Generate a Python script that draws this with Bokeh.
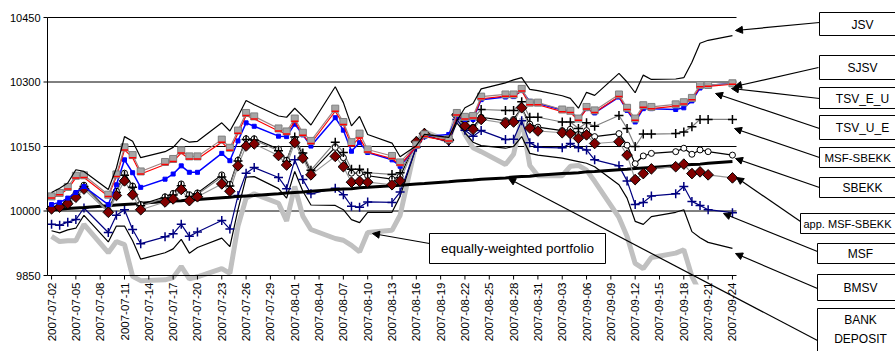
import numpy as np
import pandas as pd
from bokeh.plotting import figure
from bokeh.models import Range1d, Arrow, NormalHead
from bokeh.core.properties import value
from bokeh.embed import file_html
from bokeh.resources import INLINE

# ---- data -----------------------------------------------------------------
dates = [
    "2007-07-02", "2007-07-03", "2007-07-04", "2007-07-05", "2007-07-06",
    "2007-07-09", "2007-07-10", "2007-07-11", "2007-07-12", "2007-07-13",
    "2007-07-16", "2007-07-17", "2007-07-18", "2007-07-19", "2007-07-20",
    "2007-07-23", "2007-07-24", "2007-07-25", "2007-07-26", "2007-07-27",
    "2007-07-30", "2007-07-31", "2007-08-01", "2007-08-02", "2007-08-03",
    "2007-08-06", "2007-08-07", "2007-08-08", "2007-08-09", "2007-08-10",
    "2007-08-13", "2007-08-14", "2007-08-16", "2007-08-17",
    "2007-08-20", "2007-08-21", "2007-08-22", "2007-08-23", "2007-08-24",
    "2007-08-27", "2007-08-28", "2007-08-29", "2007-08-30", "2007-08-31",
    "2007-09-03", "2007-09-04", "2007-09-05", "2007-09-06", "2007-09-07",
    "2007-09-10", "2007-09-11", "2007-09-12", "2007-09-13", "2007-09-14",
    "2007-09-17", "2007-09-18", "2007-09-19", "2007-09-20", "2007-09-21",
    "2007-09-24",
]

jsv = [10043, 10053, 10065, 10096, 10092, 10050, 10100, 10173, 10162, 10124,
       10138, 10148, 10169, 10160, 10162, 10205, 10186, 10220, 10257, 10247,
       10221, 10218, 10239, 10220, 10200, 10289, 10252, 10198, 10220, 10178,
       10158, 10126, 10152, 10178, 10171, 10210, 10240, 10250, 10284,
       10298, 10305, 10310, 10283, 10280, 10268, 10262, 10239, 10276, 10269,
       10320, 10300, 10275, 10316, 10306, 10307, 10310, 10346, 10390, 10397,
       10408]

sjsv = [10034, 10042, 10056, 10082, 10083, 10038, 10085, 10148, 10130, 10092,
        10114, 10121, 10141, 10127, 10127, 10166, 10147, 10187, 10228, 10220,
        10192, 10185, 10215, 10182, 10163, 10238, 10207, 10160, 10180, 10143,
        10128, 10113, 10154, 10178, 10167, 10228, 10219, 10221, 10266,
        10271, 10271, 10284, 10252, 10252, 10236, 10233, 10215, 10242, 10234,
        10271, 10240, 10215, 10246, 10242, 10248, 10253, 10263, 10293, 10293,
        10297]

tsv_e_u = [10030, 10038, 10051, 10077, 10078, 10034, 10080, 10142, 10124, 10086,
           10108, 10115, 10135, 10121, 10121, 10160, 10141, 10181, 10222, 10214,
           10186, 10179, 10209, 10176, 10157, 10232, 10201, 10152, 10170, 10137,
           10122, 10107, 10149, 10173, 10163, 10223, 10214, 10216, 10261,
           10267, 10267, 10279, 10247, 10247, 10231, 10229, 10211, 10237, 10229,
           10266, 10236, 10211, 10241, 10238, 10244, 10249, 10259, 10289, 10290,
           10295]

tsv_u_e = [10015, 10020, 10030, 10043, 10057, 10015, 10061, 10119, 10089, 10055,
           10074, 10086, 10105, 10090, 10090, 10134, 10117, 10163, 10205, 10197,
           10174, 10173, 10202, 10177, 10151, 10217, 10188, 10139, 10159, 10136,
           10119, 10104, 10150, 10173, 10178, 10220, 10213, 10213, 10259,
           10265, 10266, 10280, 10255, 10250, 10235, 10232, 10214, 10238, 10228,
           10265, 10234, 10207, 10238, 10238, 10236, 10240, 10256, 10286, 10292,
           10297]

msf_sbekk = [10006, 10011, 10021, 10037, 10057, 9999, 10043, 10083, 10055, 10012,
             10030, 10037, 10059, 10034, 10039, 10079, 10058, 10116, 10166, 10165,
             10140, 10115, 10172, 10135, 10095, 10160, 10136, 10097, 10097, 10089,
             10085, 10089, 10163, 10182, 10168, 10226, 10208, 10215, 10236,
             10234, 10234, 10254, 10218, 10218, 10207, 10207, 10192, 10205, 10197,
             10222, 10192, 10150, 10179, 10179, 10180, 10184, 10196, 10213, 10213,
             10213]

sbekk = [10008, 10013, 10023, 10040, 10060, 10001, 10046, 10088, 10058, 10015,
         10033, 10041, 10063, 10038, 10042, 10084, 10062, 10118, 10168, 10168,
         10144, 10118, 10167, 10130, 10090, 10148, 10124, 10088, 10088, 10082,
         10074, 10080, 10162, 10181, 10166, 10224, 10200, 10195, 10218,
         10210, 10213, 10240, 10202, 10195, 10187, 10190, 10178, 10187, 10173,
         10180, 10153, 10110, 10128, 10134, 10138, 10146, 10132, 10142, 10138,
         10130]

app_msf_sbekk = [10005, 10009, 10017, 10032, 10051, 9997, 10036, 10070, 10038, 10003,
                 10021, 10028, 10050, 10024, 10033, 10063, 10046, 10105, 10151, 10156,
                 10129, 10107, 10159, 10123, 10084, 10127, 10103, 10067, 10069, 10067,
                 10061, 10070, 10161, 10180, 10165, 10223, 10198, 10190, 10213,
                 10204, 10207, 10240, 10193, 10186, 10182, 10180, 10169, 10177, 10157,
                 10161, 10130, 10073, 10087, 10098, 10103, 10109, 10087, 10091, 10084,
                 10077]

msf = [9969, 9967, 9974, 9980, 10007, 9950, 9990, 10003, 9957, 9924,
       9940, 9947, 9969, 9941, 9951, 9978, 9958, 10036, 10088, 10101,
       10078, 10052, 10119, 10073, 10040, 10053, 10038, 10011, 10009, 10021,
       10020, 10044, 10148, 10176, 10161, 10213, 10188, 10174, 10187,
       10166, 10167, 10210, 10159, 10148, 10147, 10157, 10147, 10142, 10119,
       10105, 10070, 10015, 10020, 10035, 10040, 10057, 10022, 10013, 10003,
       9996]

bmsv = [9954, 9949, 9956, 9960, 9990, 9928, 9965, 9965, 9931, 9888,
        9903, 9912, 9934, 9902, 9915, 9937, 9917, 10003, 10079, 10080,
        10052, 10030, 10092, 10046, 10014, 10013, 10003, 9980, 9973, 9997,
        9997, 10034, 10150, 10175, 10162, 10205, 10182, 10160, 10152,
        10146, 10150, 10173, 10134, 10130, 10123, 10119, 10115, 10111, 10103,
        10061, 10030, 9976, 9969, 9987, 9997, 10003, 9952, 9938, 9927,
        9913]

bank_deposit = [10003, 10004, 10006, 10007, 10008, 10012, 10014, 10015, 10016, 10018,
                10022, 10023, 10024, 10026, 10027, 10031, 10032, 10034, 10035, 10036,
                10040, 10042, 10043, 10044, 10046, 10050, 10051, 10052, 10054, 10055,
                10059, 10060, 10063, 10064, 10068, 10070, 10071, 10072, 10074,
                10077, 10079, 10080, 10081, 10083, 10087, 10088, 10089, 10091, 10092,
                10096, 10097, 10099, 10100, 10101, 10105, 10107, 10108, 10109, 10111,
                10115]

equally_weighted = [9941, 9929, 9931, 9931, 9969, 9903, 9929, 9922, 9848, 9838,
                    9840, 9845, 9871, 9842, 9847, 9866, 9855, 9965, 10030, 10040,
                    10018, 9977, 10057, 9988, 9957, 9936, 9932, 9920, 9905, 9950,
                    9955, 9990, 10160, 10185, 10162, 10228, 10178, 10147, 10138,
                    10108, 10132, 10215, 10106, 10082, 10082, 10104, 10106, 10095, 10069,
                    9985, 9941, 9878, 9866, 9892, 9902, 9910, 9848, 9810, 9800,
                    9790]

y_ticks = [9850, 10000, 10150, 10300, 10450]
y_tick_labels = ["9850", "10000", "10150", "10300", "10450"]
tick_dates = pd.date_range("2007-07-02", "2007-09-24", freq="3D")
tick_labels = [d.strftime("%Y-%m-%d") for d in tick_dates]

series_names = ["JSV", "SJSV", "TSV_E_U", "TSV_U_E", "MSF-SBEKK", "SBEKK",
                "app. MSF-SBEKK", "MSF", "BMSV", "BANK\nDEPOSIT"]

# ---- geometry ---------------------------------------------------------------
W, H = 895, 351
FL, FR, FT, FB = 47, 736, 17, 275          # plot area edges in page pixels
X0, X1 = -0.5, 84.5                        # days since the first date
Y0, Y1 = 9850, 10450
FONT = "Liberation Sans"

ppx = (FR - FL) / (X1 - X0)                # pixels per day
ppy = (FB - FT) / (Y1 - Y0)                # pixels per value unit


def at(px, py):
    """Page pixel -> data coordinates, for axis furniture and callouts."""
    return X0 + (px - FL) / ppx, Y1 - (py - FT) / ppy


start = pd.Timestamp(dates[0])
day = [(pd.Timestamp(d) - start).days for d in dates]
tick_days = [int((d - start).days) for d in tick_dates]

# The canvas is one frame; the data scales are set so the plot area sits at
# FL..FR x FT..FB, leaving room round it for the axes and the callout boxes.
p = figure(width=W, height=H,
           x_range=Range1d(X0 - FL / ppx, X1 + (W - FR) / ppx),
           y_range=Range1d(Y0 - (H - FB) / ppy, Y1 + FT / ppy),
           output_backend="svg", toolbar_location=None, min_border=0,
           x_axis_location=None, y_axis_location=None)
p.grid.visible = False
p.outline_line_color = None
p.background_fill_color = "white"
p.border_fill_color = "white"

# horizontal grid lines
grid_vals = y_ticks[1:]
p.segment(x0=[X0] * len(grid_vals), y0=grid_vals, x1=[X1] * len(grid_vals), y1=grid_vals,
          line_color="black", line_width=1)

# ---- series -----------------------------------------------------------------
p.line(day, equally_weighted, line_color="#c0c0c0", line_width=5)
p.line(day, bmsv, line_color="black", line_width=1.2)
p.line(day, msf, line_color="#000080", line_width=1.2)
p.scatter(day, msf, marker="cross", size=9, line_color="#000080", line_width=1.5)
p.line(day, bank_deposit, line_color="black", line_width=3)

p.line(day, sbekk, line_color="black", line_width=1.2)
p.line(day, msf_sbekk, line_color="#808080", line_width=1.2)
p.line(day, app_msf_sbekk, line_color="#969696", line_width=1.2)
p.scatter(day, sbekk, marker="circle", size=6, fill_color="white", line_color="black", line_width=1)
p.scatter(day, msf_sbekk, marker="cross", size=9, line_color="black", line_width=1.5)
p.scatter(day, app_msf_sbekk, marker="square", angle=np.pi / 4, size=7.5,
          fill_color="#800000", line_color="black", line_width=1)

p.line(day, tsv_u_e, line_color="#0000ff", line_width=1.5)
p.scatter(day, tsv_u_e, marker="square", size=4, fill_color="#0000ff", line_color="#0000ff")
p.line(day, tsv_e_u, line_color="#ff0000", line_width=1.2)
p.line(day, sjsv, line_color="#a08080", line_width=1.2)
p.scatter(day, sjsv, marker="square", size=7, fill_color="#a6a6a6", line_color="#808080", line_width=1)
p.scatter(day, tsv_e_u, marker="dash", size=7, line_color="#ff0000", line_width=1.5)
p.line(day, jsv, line_color="black", line_width=1.2)

# everything that runs far below the value axis is cut at the plot area's edge
mx0, my0 = at(FL - 1, FB + 9)
mx1, my1 = at(FR + 2, H + 10)
p.quad(left=[mx0], right=[mx1], top=[my0], bottom=[my1], fill_color="white", line_color=None)

# ---- axes -----------------------------------------------------------------------
p.segment(x0=[X0, X0], y0=[Y0, Y0], x1=[X0, X1], y1=[Y1, Y0], line_color="black", line_width=1)

tick_x, _ = at(FL - 4, 0)
p.segment(x0=[tick_x] * len(y_ticks), y0=y_ticks, x1=[X0] * len(y_ticks), y1=y_ticks,
          line_color="black", line_width=1)
lab_x, _ = at(FL - 7, 0)
p.text(x=[lab_x] * len(y_ticks), y=y_ticks, text=y_tick_labels, text_align="right",
       text_baseline="middle", text_font=value(FONT), text_font_size="11px", text_color="black")

_, tick_y = at(0, FB + 4)
p.segment(x0=tick_days, y0=[Y0] * len(tick_days), x1=tick_days, y1=[tick_y] * len(tick_days),
          line_color="black", line_width=1)
_, lab_y = at(0, FB + 7)
p.text(x=tick_days, y=[lab_y] * len(tick_days), text=tick_labels, angle=np.pi / 2,
       text_align="right", text_baseline="middle", text_font=value(FONT),
       text_font_size="11.5px", text_color="black")

# ---- callouts ---------------------------------------------------------------------
arrows = [
    ((819, 22), (735, 30)),
    ((818, 67), (734, 86)),
    ((819, 98), (731, 88)),
    ((819, 128), (715, 93)),
    ((819, 157), (734, 128)),
    ((819, 187), (735, 158)),
    ((800, 221), (736, 177)),
    ((817, 251), (723, 213)),
    ((817, 288), (735, 253)),
    ((817, 340), (508, 178)),
    ((429, 243), (372, 233)),
]
for (sx, sy), (ex, ey) in arrows:
    xs, ys = at(sx, sy)
    xe, ye = at(ex, ey)
    p.add_layout(Arrow(x_start=xs, y_start=ys, x_end=xe, y_end=ye,
                       end=NormalHead(size=7, fill_color="black", line_color="black"),
                       line_color="black", line_width=1.2))

# box edges in page pixels: left, right, top, bottom
box_px = [(819, 910, 12, 35), (819, 910, 55, 79), (819, 910, 87, 108),
          (819, 910, 115, 139), (819, 910, 147, 167), (819, 910, 177, 197),
          (800, 910, 213, 233), (817, 910, 243, 263), (817, 910, 274, 300),
          (817, 910, 308, 362), (429, 605, 233, 263)]
bl, bt, br, bb = [], [], [], []
for l, r, t, b in box_px:
    x_l, y_t = at(l, t)
    x_r, y_b = at(r, b)
    bl.append(x_l); br.append(x_r); bt.append(y_t); bb.append(y_b)
p.quad(left=bl, right=br, top=bt, bottom=bb, fill_color="white", line_color="black", line_width=1)

# label anchors in page pixels: x, y, alignment, font size
label_px = [(862, 24, "center", "12px"), (862, 67, "center", "12px"),
            (862, 98, "center", "12px"), (862, 127, "center", "12px"),
            (824, 157, "left", "11.5px"), (862, 187, "center", "12px"),
            (803, 223, "left", "11px"), (860, 253, "center", "12px"),
            (860, 287, "center", "12px"), (860, 329, "center", "12px")]
for name, (lx, ly, align, size) in zip(series_names, label_px):
    x, y = at(lx, ly)
    p.text(x=[x], y=[y], text=[name], text_align=align, text_baseline="middle",
           text_font=value(FONT), text_font_size=size, text_color="black",
           text_line_height=1.4)

x, y = at(517, 248)
p.text(x=[x], y=[y], text=["equally-weighted portfolio"], text_align="center",
       text_baseline="middle", text_font=value(FONT), text_font_size="13.5px",
       text_color="black")

open("out.html", "w").write(file_html(p, INLINE))
